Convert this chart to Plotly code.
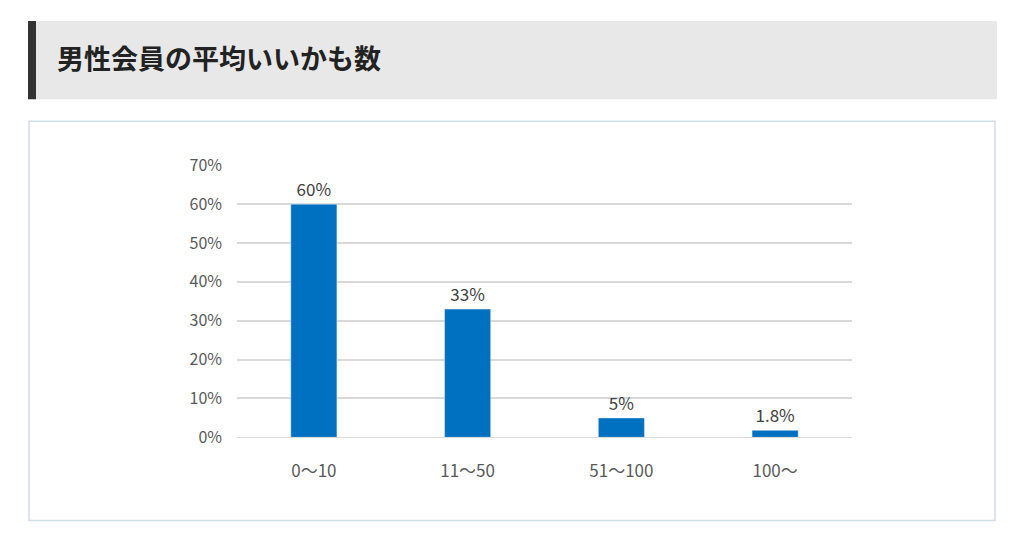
import plotly.graph_objects as go

categories = ["0～10", "11～50", "51～100", "100～"]
values = [60, 33, 5, 1.8]
labels = ["60%", "33%", "5%", "1.8%"]
yticks = [0, 10, 20, 30, 40, 50, 60, 70]
ytick_labels = [f"{v}%" for v in yticks]

W, H = 1024, 538
# correction for observed page offset/scaling
def px(x): return (x - 8) / W
def py(y): return 1 - max(0.0, (y - 20.8) / (0.955 * H))

fig = go.Figure(go.Bar(
    x=categories, y=values, text=labels, textposition="outside",
    marker_color="#0070c0", width=0.3,
    textfont=dict(size=17, color="#404040", family="Noto Sans CJK JP"),
    cliponaxis=False,
))
fig.update_layout(
    width=W, height=H, margin=dict(l=0, r=0, t=0, b=0),
    paper_bgcolor="white", plot_bgcolor="white", showlegend=False,
    font=dict(family="Noto Sans CJK JP", color="#595959", size=16),
    xaxis=dict(domain=[px(237), px(852)], showgrid=False, showline=True,
               linecolor="#d9d9d9", ticks="", ticklabelstandoff=18,
               tickfont=dict(size=17, color="#595959")),
    yaxis=dict(domain=[py(437), py(165)], range=[0, 70], tickvals=yticks,
               ticktext=ytick_labels, gridcolor="#d9d9d9", gridwidth=1.5,
               zeroline=False, showline=False, ticks="", ticklabelstandoff=14,
               tickfont=dict(size=16, color="#595959")),
    shapes=[
        dict(type="rect", xref="paper", yref="paper", x0=px(28), x1=px(997),
             y0=py(99), y1=py(18), fillcolor="#e8e8e8", line_width=0, layer="below"),
        dict(type="rect", xref="paper", yref="paper", x0=px(28), x1=px(36),
             y0=py(99), y1=py(18), fillcolor="#333333", line_width=0),
        dict(type="rect", xref="paper", yref="paper", x0=px(29), x1=px(995),
             y0=py(520), y1=py(121), fillcolor="rgba(0,0,0,0)",
             line=dict(color="#cfdde6", width=1.5)),
    ],
    annotations=[dict(text="<b>男性会員の平均いいかも数</b>", xref="paper", yref="paper",
                      x=px(55), y=py(57), xanchor="left", yanchor="middle",
                      showarrow=False, font=dict(size=27, color="#222222",
                      family="Noto Sans CJK JP"))],
)
fig.write_html("out.html")
